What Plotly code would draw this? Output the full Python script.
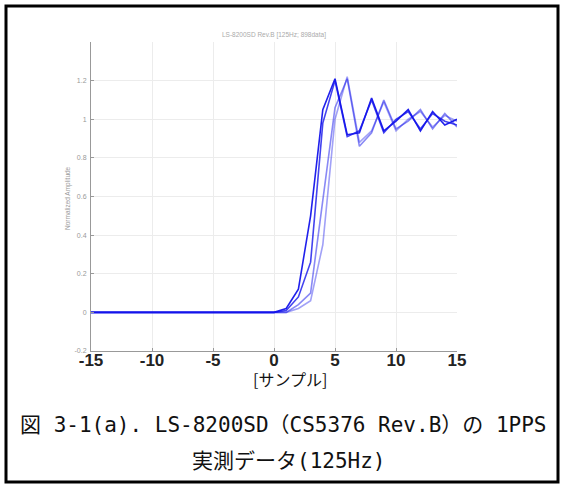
import plotly.graph_objects as go

# ---------------- data ----------------
samples = list(range(-15, 16))
zeros_before = [0.0] * 15  # x = -15 .. -1

trace1 = zeros_before + [0.0, 0.02, 0.12, 0.50, 1.05, 1.21, 0.92, 0.93, 1.11, 0.94, 0.99, 1.05, 0.94, 1.04, 0.97, 1.00]
trace2 = zeros_before + [0.0, 0.01, 0.08, 0.26, 0.98, 1.20, 0.91, 0.94, 1.10, 0.93, 1.00, 1.04, 0.95, 1.03, 0.99, 0.97]
trace3 = zeros_before + [0.0, 0.00, 0.04, 0.10, 0.58, 1.06, 1.21, 0.86, 0.93, 1.10, 0.95, 0.99, 1.05, 0.95, 1.03, 0.96]
trace4 = zeros_before + [0.0, 0.00, 0.02, 0.06, 0.35, 1.00, 1.22, 0.88, 0.94, 1.09, 0.94, 1.00, 1.04, 0.96, 1.02, 0.99]
series = [trace1, trace2, trace3, trace4]
opacities = [0.95, 0.8, 0.5, 0.4]

x_ticks = [-15, -10, -5, 0, 5, 10, 15]
y_ticks = [-0.2, 0, 0.2, 0.4, 0.6, 0.8, 1, 1.2]
y_tick_text = ["-0.2", "0", "0.2", "0.4", "0.6", "0.8", "1", "1.2"]

title_text = "LS-8200SD Rev.B [125Hz; 898data]"
ylabel_text = "Normalized Amplitude"
xlabel_text = "[サンプル]"
caption1 = "図 3-1(a). LS-8200SD（CS5376 Rev.B）の 1PPS"
caption2 = "実測データ(125Hz)"

# ---------------- figure ----------------
W, H = 563, 486
L, R, T, B = 91, 457, 42, 351  # plot area pixels

fig = go.Figure()
for ys, op in zip(series, opacities):
    fig.add_trace(go.Scatter(x=samples, y=ys, mode="lines",
                             line=dict(color=f"rgba(20,20,235,{op})", width=1.6),
                             showlegend=False, hoverinfo="skip"))

def px2paper_x(px):
    return (px - L) / (R - L)

def px2paper_y(py):
    return (B - py) / (B - T)

fig.update_layout(
    width=W, height=H,
    margin=dict(l=L, r=W - R, t=T, b=H - B),
    paper_bgcolor="white", plot_bgcolor="white",
    font=dict(family="Liberation Sans, Arial, sans-serif"),
)
fig.update_xaxes(range=[-15, 15], tickvals=x_ticks, ticktext=[str(v) for v in x_ticks],
                 showgrid=True, gridcolor="#ececec", gridwidth=1,
                 showline=True, linecolor="#999999", linewidth=1,
                 zeroline=False, ticks="inside", ticklen=3, tickcolor="#999999",
                 tickfont=dict(size=17, color="#222222", family="Liberation Sans, Arial", weight="bold"),
                 ticklabelstandoff=-6)
fig.update_yaxes(range=[-0.2, 1.4], tickvals=y_ticks, ticktext=y_tick_text,
                 showgrid=True, gridcolor="#ececec", gridwidth=1,
                 showline=True, linecolor="#999999", linewidth=1,
                 zeroline=False, ticks="inside", ticklen=3, tickcolor="#999999",
                 tickfont=dict(size=7, color="#999999"),
                 ticklabelstandoff=2)

cap_font = "DejaVu Sans Mono, Noto Sans CJK JP, sans-serif"
annots = [
    dict(text=title_text, x=px2paper_x(274), y=px2paper_y(35), font=dict(size=6.5, color="#aaaaaa")),
    dict(text=ylabel_text, x=px2paper_x(68), y=px2paper_y(198), textangle=-90, font=dict(size=6.5, color="#999999")),
    dict(text=xlabel_text, x=px2paper_x(290), y=px2paper_y(379), font=dict(size=16, color="#111111", family="Noto Sans CJK JP")),
    dict(text=caption1, x=px2paper_x(283), y=px2paper_y(425), font=dict(size=21, color="#111111", family=cap_font)),
    dict(text=caption2, x=px2paper_x(289), y=px2paper_y(461), font=dict(size=21, color="#111111", family=cap_font)),
]
for a in annots:
    fig.add_annotation(xref="paper", yref="paper", showarrow=False,
                       xanchor="center", yanchor="middle", **a)

# outer frame
fig.add_shape(type="rect", xref="paper", yref="paper",
              x0=px2paper_x(6), x1=px2paper_x(558), y0=px2paper_y(482), y1=px2paper_y(6),
              line=dict(color="black", width=3), fillcolor="rgba(0,0,0,0)", layer="above")

fig.write_html("out.html")
